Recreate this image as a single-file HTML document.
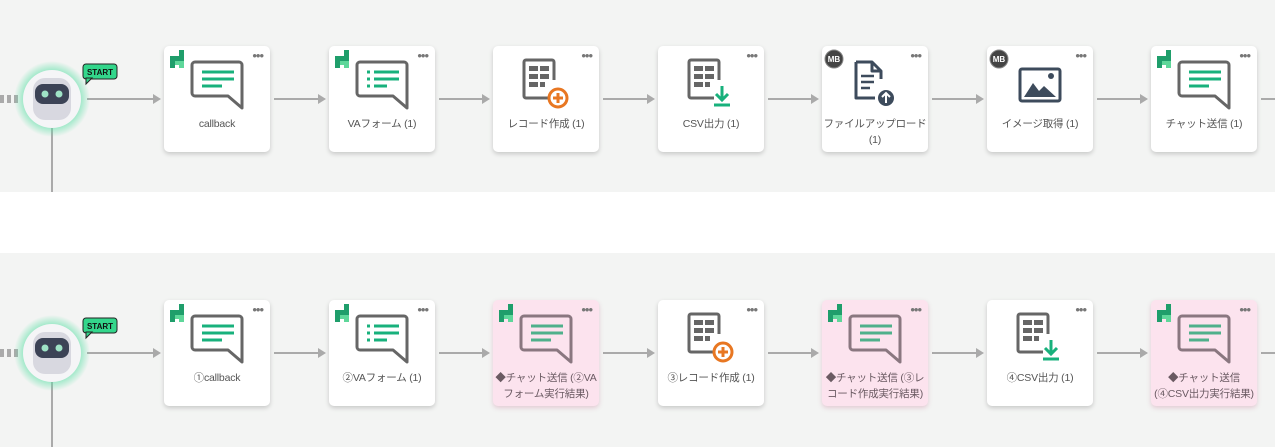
<!DOCTYPE html>
<html><head><meta charset="utf-8"><style>
body{margin:0;width:1275px;height:447px;overflow:hidden;background:#fff;font-family:"Liberation Sans","Noto Sans CJK JP",sans-serif;position:relative}
.band{position:absolute;left:0;width:1275px;background:#f3f4f3}
.n{position:absolute;width:106px;height:106px;background:#fff;border-radius:5px;box-shadow:0 2px 5px rgba(0,0,0,.18)}
.p{background:#fce3ee;box-shadow:0 2px 5px rgba(180,80,120,.25)}
.n svg{position:absolute;left:0;top:0}
.l{position:absolute;left:0;right:0;top:70px;text-align:center;font-size:10.5px;line-height:17px;color:#555;white-space:nowrap;letter-spacing:-0.2px}
.l2{top:70px;line-height:16px}
.d{position:absolute;right:7px;top:3px;font-size:13px;color:#777;letter-spacing:-1px;line-height:13px}
</style></head><body>
<svg width="0" height="0" style="position:absolute">
<defs>
<symbol id="chat" viewBox="0 0 106 70"><path d="M31 16 h44 a3 3 0 0 1 3 3 v43 l-14 -12 h-33 a3 3 0 0 1 -3 -3 v-28 a3 3 0 0 1 3 -3z" fill="none" stroke="#666" stroke-width="3" stroke-linejoin="round"/><g stroke="#18b17c" stroke-width="3"><line x1="38" y1="26" x2="70" y2="26"/><line x1="38" y1="33" x2="70" y2="33"/><line x1="38" y1="40" x2="58" y2="40"/></g></symbol>
<symbol id="pchat" viewBox="0 0 106 70"><path d="M31 16 h44 a3 3 0 0 1 3 3 v43 l-14 -12 h-33 a3 3 0 0 1 -3 -3 v-28 a3 3 0 0 1 3 -3z" fill="none" stroke="#8a7780" stroke-width="3" stroke-linejoin="round"/><g stroke="#4fb08b" stroke-width="3"><line x1="38" y1="26" x2="70" y2="26"/><line x1="38" y1="33" x2="70" y2="33"/><line x1="38" y1="40" x2="58" y2="40"/></g></symbol>
<symbol id="form" viewBox="0 0 106 70"><path d="M31 16 h44 a3 3 0 0 1 3 3 v43 l-14 -12 h-33 a3 3 0 0 1 -3 -3 v-28 a3 3 0 0 1 3 -3z" fill="none" stroke="#666" stroke-width="3" stroke-linejoin="round"/><g stroke="#18b17c" stroke-width="3"><line x1="38" y1="26" x2="41" y2="26"/><line x1="45" y1="26" x2="70" y2="26"/><line x1="38" y1="33" x2="41" y2="33"/><line x1="45" y1="33" x2="70" y2="33"/><line x1="38" y1="40" x2="41" y2="40"/><line x1="45" y1="40" x2="58" y2="40"/></g></symbol>
<symbol id="grid" viewBox="0 0 106 70"><path d="M56 52 h-23 a2 2 0 0 1 -2 -2 v-34 a2 2 0 0 1 2 -2 h26 a2 2 0 0 1 2 2 v18" fill="none" stroke="#666" stroke-width="3"/><g fill="#666"><rect x="36" y="20" width="9" height="5"/><rect x="47" y="20" width="9" height="5"/><rect x="36" y="28" width="9" height="5"/><rect x="47" y="28" width="9" height="5"/><rect x="36" y="36" width="9" height="5"/><rect x="47" y="36" width="5" height="5"/></g></symbol>
<symbol id="plus" viewBox="0 0 106 70"><circle cx="65" cy="52" r="9" fill="#fff" stroke="#e87722" stroke-width="3"/><path d="M65 47v10M60 52h10" stroke="#e87722" stroke-width="3"/></symbol>
<symbol id="dl" viewBox="0 0 106 70"><path d="M64 40v14M58 48l6 6 6-6" fill="none" stroke="#18b17c" stroke-width="3"/><line x1="56" y1="59" x2="72" y2="59" stroke="#18b17c" stroke-width="3"/></symbol>
<symbol id="dstart" viewBox="0 0 106 70"><path d="M15 4 h5 v11 h-5z M6 10 h11 v5 h-6 v7 h-5z" fill="#1f9e6b"/><path d="M11 15 h9 v7 h-5 v-3 h-4z" fill="#5ed79a"/></symbol>
</defs></svg>

<div class="band" style="top:0;height:192px"></div>
<div class="band" style="top:253px;height:194px"></div>

<svg width="1275" height="447" style="position:absolute;left:0;top:0">
<g stroke="#aaa" stroke-width="2">
<line x1="0" y1="99" x2="20" y2="99" stroke-dasharray="4 3" stroke-width="8"/>
<line x1="0" y1="353" x2="20" y2="353" stroke-dasharray="4 3" stroke-width="8"/>
<line x1="87" y1="99" x2="154" y2="99"/><line x1="274" y1="99" x2="319" y2="99"/><line x1="439" y1="99" x2="483" y2="99"/><line x1="603" y1="99" x2="648" y2="99"/><line x1="768" y1="99" x2="812" y2="99"/><line x1="932" y1="99" x2="977" y2="99"/><line x1="1097" y1="99" x2="1141" y2="99"/><line x1="1261" y1="99" x2="1275" y2="99"/>
<line x1="87" y1="353" x2="154" y2="353"/><line x1="274" y1="353" x2="319" y2="353"/><line x1="439" y1="353" x2="483" y2="353"/><line x1="603" y1="353" x2="648" y2="353"/><line x1="768" y1="353" x2="812" y2="353"/><line x1="932" y1="353" x2="977" y2="353"/><line x1="1097" y1="353" x2="1141" y2="353"/><line x1="1261" y1="353" x2="1275" y2="353"/>
<line x1="52" y1="127" x2="52" y2="192"/><line x1="52" y1="381" x2="52" y2="447"/>
</g>
<g fill="#aaa">
<path d="M161 99l-8-5v10z"/><path d="M326 99l-8-5v10z"/><path d="M490 99l-8-5v10z"/><path d="M655 99l-8-5v10z"/><path d="M819 99l-8-5v10z"/><path d="M984 99l-8-5v10z"/><path d="M1148 99l-8-5v10z"/>
<path d="M161 353l-8-5v10z"/><path d="M326 353l-8-5v10z"/><path d="M490 353l-8-5v10z"/><path d="M655 353l-8-5v10z"/><path d="M819 353l-8-5v10z"/><path d="M984 353l-8-5v10z"/><path d="M1148 353l-8-5v10z"/>
</g>
<defs><radialGradient id="gl"><stop offset="0.6" stop-color="#5fe0a8" stop-opacity=".9"/><stop offset="1" stop-color="#5fe0a8" stop-opacity="0"/></radialGradient></defs>
<g id="rb">
<circle cx="52" cy="99" r="38" fill="url(#gl)"/>
<circle cx="52" cy="99" r="29" fill="#f5f5f7"/>
<rect x="33" y="78" width="38" height="42" rx="12" fill="#d8d8e0"/>
<rect x="35" y="84" width="34" height="20" rx="8" fill="#3c4356"/>
<circle cx="45" cy="94" r="3.5" fill="#9fe3c6"/><circle cx="59" cy="94" r="3.5" fill="#9fe3c6"/>
<rect x="83" y="64" width="34" height="15" rx="3" fill="#33d68b" stroke="#222" stroke-width="1"/>
<path d="M86 78 l0 6 l6 -6z" fill="#33d68b" stroke="#222" stroke-width="1"/>
<text x="100" y="75" font-size="8" font-weight="bold" text-anchor="middle" fill="#111" font-family="Liberation Sans,sans-serif">START</text>
</g>
<use href="#rb" y="254"/>
</svg>

<div class="n" style="left:164px;top:46px"><svg width="106" height="70"><use href="#dstart"/><use href="#chat"/></svg><div class="d">•••</div><div class="l">callback</div></div>
<div class="n" style="left:329px;top:46px"><svg width="106" height="70"><use href="#dstart"/><use href="#form"/></svg><div class="d">•••</div><div class="l">VAフォーム (1)</div></div>
<div class="n" style="left:493px;top:46px"><svg width="106" height="70"><use href="#grid"/><use href="#plus"/></svg><div class="d">•••</div><div class="l">レコード作成 (1)</div></div>
<div class="n" style="left:658px;top:46px"><svg width="106" height="70"><use href="#grid"/><use href="#dl"/></svg><div class="d">•••</div><div class="l">CSV出力 (1)</div></div>
<div class="n" style="left:822px;top:46px"><svg width="106" height="70"><circle cx="12" cy="13" r="9" fill="#444" stroke="#888"/><text x="12" y="16" font-size="8" font-weight="bold" fill="#fff" text-anchor="middle">MB</text><path d="M34 16 h16 l9 9 v8 M50 16 v9 h9 M53 52 h-19 v-36" fill="none" stroke="#3d4b5c" stroke-width="3" stroke-linejoin="round"/><g stroke="#3d4b5c" stroke-width="2.5"><line x1="39" y1="30" x2="52" y2="30"/><line x1="39" y1="36" x2="52" y2="36"/><line x1="39" y1="42" x2="48" y2="42"/></g><circle cx="64" cy="52" r="8" fill="#3d4b5c"/><path d="M64 57v-9M60 51l4-4 4 4" fill="none" stroke="#fff" stroke-width="2"/></svg><div class="d">•••</div><div class="l l2">ファイルアップロード<br>(1)</div></div>
<div class="n" style="left:987px;top:46px"><svg width="106" height="70"><circle cx="12" cy="13" r="9" fill="#444" stroke="#888"/><text x="12" y="16" font-size="8" font-weight="bold" fill="#fff" text-anchor="middle">MB</text><rect x="33" y="23" width="40" height="32" rx="2" fill="none" stroke="#3d4b5c" stroke-width="3"/><path d="M37 51 l9 -14 l6 8 l5 -5 l12 11z" fill="#3d4b5c"/><circle cx="64" cy="30" r="3" fill="#3d4b5c"/></svg><div class="d">•••</div><div class="l">イメージ取得 (1)</div></div>
<div class="n" style="left:1151px;top:46px"><svg width="106" height="70"><use href="#dstart"/><use href="#chat"/></svg><div class="d">•••</div><div class="l">チャット送信 (1)</div></div>

<div class="n" style="left:164px;top:300px"><svg width="106" height="70"><use href="#dstart"/><use href="#chat"/></svg><div class="d">•••</div><div class="l">①callback</div></div>
<div class="n" style="left:329px;top:300px"><svg width="106" height="70"><use href="#dstart"/><use href="#form"/></svg><div class="d">•••</div><div class="l">②VAフォーム (1)</div></div>
<div class="n p" style="left:493px;top:300px"><svg width="106" height="70"><use href="#dstart"/><use href="#pchat"/></svg><div class="d">•••</div><div class="l l2" style="color:#6a5a62">◆チャット送信 (②VA<br>フォーム実行結果)</div></div>
<div class="n" style="left:658px;top:300px"><svg width="106" height="70"><use href="#grid"/><use href="#plus"/></svg><div class="d">•••</div><div class="l">③レコード作成 (1)</div></div>
<div class="n p" style="left:822px;top:300px"><svg width="106" height="70"><use href="#dstart"/><use href="#pchat"/></svg><div class="d">•••</div><div class="l l2" style="color:#6a5a62">◆チャット送信 (③レ<br>コード作成実行結果)</div></div>
<div class="n" style="left:987px;top:300px"><svg width="106" height="70"><use href="#grid"/><use href="#dl"/></svg><div class="d">•••</div><div class="l">④CSV出力 (1)</div></div>
<div class="n p" style="left:1151px;top:300px"><svg width="106" height="70"><use href="#dstart"/><use href="#pchat"/></svg><div class="d">•••</div><div class="l l2" style="color:#6a5a62">◆チャット送信<br>(④CSV出力実行結果)</div></div>
</body></html>
